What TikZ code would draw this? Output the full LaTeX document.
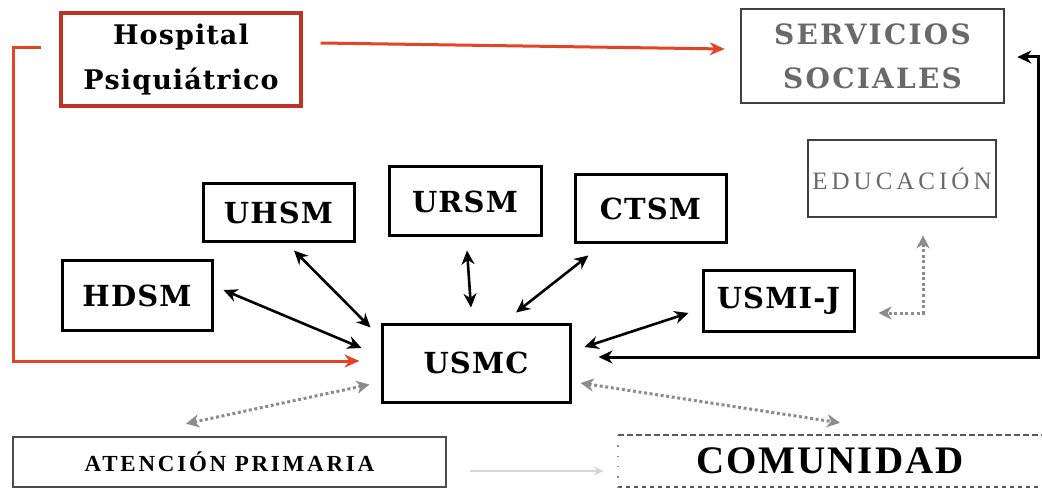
\documentclass[tikz,border=0pt]{standalone}
\usepackage{fontspec}
\usetikzlibrary{arrows.meta,calc}
\setmainfont{DejaVu Serif}
\newfontfamily\hv{DejaVu Serif}[LetterSpace=4]
\newfontfamily\hvw{DejaVu Serif}[LetterSpace=8]
\newfontfamily\tmsA{Liberation Serif}[LetterSpace=16]
\newfontfamily\tmsB{Liberation Serif}[LetterSpace=12]
\newfontfamily\tmsC{Liberation Serif}[LetterSpace=5]
\definecolor{hred}{RGB}{190,50,40}
\definecolor{ared}{RGB}{228,68,38}
\definecolor{gtxt}{RGB}{105,105,105}
\definecolor{gdot}{RGB}{140,140,140}
\definecolor{gfaint}{RGB}{215,215,215}
\begin{document}
\begin{tikzpicture}[x=1pt,y=-1pt,
  box/.style={draw=black, line width=3pt, fill=white, inner sep=0pt, align=center},
  unit/.style={box, font=\hv\bfseries\fontsize{29}{32}\selectfont},
  dbl/.style={line width=2.6pt, black, {Stealth[length=14pt,width=13pt]}-{Stealth[length=14pt,width=13pt]}},
  redarr/.style={line width=3pt, ared, -{Stealth[length=15pt,width=13pt]}},
  gdotted/.style={line width=3pt, gdot, dash pattern=on 3pt off 2.6pt, {Stealth[length=13pt,width=13pt,inset=4pt]}-{Stealth[length=13pt,width=13pt,inset=4pt]}}
]
\useasboundingbox[fill=white] (0,0) rectangle (1042,489);

% boxes
\node[box, draw=hred, line width=3.2pt, minimum width=240pt, minimum height=93pt,
  font=\hv\bfseries\fontsize{27}{45}\selectfont] (hosp) at (181,59.5) {Hospital\\Psiquiátrico};
\node[box, draw=black!75, line width=2.6pt, minimum width=263pt, minimum height=94pt,
  text=gtxt, font=\hvw\bfseries\fontsize{28}{44}\selectfont] (serv) at (872.5,56) {SERVICIOS\\SOCIALES};
\node[box, draw=black!75, line width=2.6pt, minimum width=188pt, minimum height=77pt,
  text=gtxt, font=\tmsA\fontsize{25}{28}\selectfont] (edu) at (902,178.5) {EDUCACIÓN};
\node[unit, minimum width=150pt, minimum height=69pt] (hdsm) at (137,295.5) {HDSM};
\node[unit, minimum width=151pt, minimum height=58pt] (uhsm) at (278.5,213) {UHSM};
\node[unit, minimum width=152pt, minimum height=69pt] (ursm) at (465,201.5) {URSM};
\node[unit, minimum width=151pt, minimum height=68pt] (ctsm) at (650.5,209) {CTSM};
\node[unit, minimum width=151pt, minimum height=60pt] (usmij) at (778.5,301) {USMI-J};
\node[unit, minimum width=188pt, minimum height=78pt] (usmc) at (476,363) {USMC};
\node[box, draw=black!70, line width=2.6pt, minimum width=433pt, minimum height=50pt,
  font=\tmsB\bfseries\fontsize{23}{26}\selectfont] (atp) at (229.5,462) {ATENCIÓN PRIMARIA};
\node[inner sep=0pt, minimum width=424pt, minimum height=52pt,
  font=\tmsC\bfseries\fontsize{39}{42}\selectfont] (comu) at (830,461) {COMUNIDAD};
\draw[black!65, line width=2.4pt, dash pattern=on 6pt off 3pt] (comu.north west) -- (comu.north east);
\draw[black!65, line width=2.4pt, dash pattern=on 4pt off 4pt] (comu.south west) -- (comu.south east);
\draw[black!45, line width=1.4pt, dash pattern=on 1.4pt off 9pt] (comu.north west) -- (comu.south west);

% black double arrows
\draw[dbl] ([xshift=10pt,yshift=5.5pt]hdsm.east) -- ([xshift=-19pt,yshift=15pt]usmc.west);
\draw[dbl] ([xshift=15.5pt,yshift=-7pt]uhsm.south) -- ([xshift=-10pt,yshift=-5pt]usmc.north west);
\draw[dbl] ([xshift=2pt,yshift=-13pt]ursm.south) -- ([xshift=-5pt,yshift=15pt]usmc.north);
\draw[dbl] ([xshift=15pt,yshift=-11pt]ctsm.south west) -- ([xshift=40pt,yshift=10pt]usmc.north);
\draw[dbl] ([xshift=-13pt,yshift=-12pt]usmij.west) -- ([xshift=13pt,yshift=16pt]usmc.east);

% black long connector
\coordinate (rc) at (1038,57);
\draw[line width=3pt, black, {Stealth[length=14pt,width=13pt]}-{Stealth[length=14pt,width=13pt]}]
  ([xshift=27pt,yshift=6pt]usmc.east) -| (rc) -- ([xshift=12pt,yshift=-1pt]serv.east);

% red connectors
\draw[redarr] ([xshift=18pt,yshift=16.5pt]hosp.east) -- ([xshift=-15pt,yshift=7pt]serv.west);
\draw[redarr] ([xshift=-18pt,yshift=11.5pt]hosp.west) -- ++(-28,0) |- ([xshift=-21pt,yshift=2pt]usmc.west);

% gray dotted connectors
\draw[gdotted] ([xshift=-43.5pt,yshift=12pt]atp.north) -- ([xshift=-11pt,yshift=19pt]usmc.south west);
\draw[gdotted] ([xshift=9pt,yshift=-20pt]usmc.east) -- ([xshift=10pt,yshift=12pt]comu.north);
\draw[gdotted] ([xshift=21pt,yshift=-17pt]edu.south) |- ([xshift=23pt,yshift=-12pt]usmij.east);

% faint connector
\draw[line width=2.8pt, gfaint, -{Stealth[length=10pt,width=9pt]}] ([xshift=23pt,yshift=-9pt]atp.east) -- ([xshift=-14pt,yshift=-10pt]comu.west);
\end{tikzpicture}
\end{document}
